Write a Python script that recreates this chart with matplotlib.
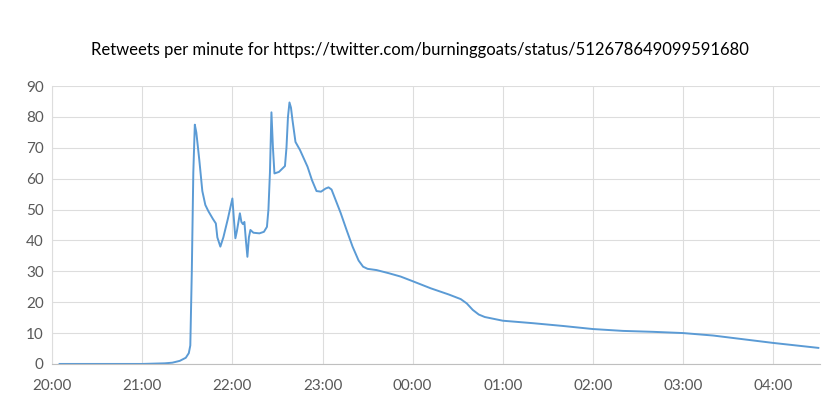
import matplotlib
matplotlib.use("Agg")
import matplotlib.pyplot as plt
import matplotlib.dates as mdates
from datetime import datetime, timedelta

# Retweets per minute
times = ["20:05", "20:30", "21:00", "21:15", "21:20", "21:25", "21:29", "21:31",
         "21:32", "21:33", "21:34", "21:35", "21:36", "21:38", "21:40", "21:42",
         "21:44", "21:47", "21:49", "21:50", "21:52", "21:54", "21:57", "22:00",
         "22:01", "22:02", "22:03", "22:05", "22:06", "22:07", "22:08", "22:09",
         "22:10", "22:11", "22:12", "22:14", "22:18", "22:21", "22:23", "22:24",
         "22:25", "22:26", "22:27", "22:28", "22:31", "22:35", "22:36", "22:37",
         "22:38", "22:39", "22:40", "22:42", "22:45", "22:50", "22:53", "22:56",
         "22:59", "23:02", "23:04", "23:06", "23:08", "23:12", "23:16", "23:20",
         "23:24", "23:27", "23:30", "23:36", "23:44", "23:52", "00:00", "00:12",
         "00:24", "00:32", "00:36", "00:40", "00:44", "00:48", "00:55", "01:00",
         "01:20", "01:40", "02:00", "02:20", "02:40", "03:00", "03:20", "03:40",
         "04:00", "04:15", "04:30"]
retweets = [0, 0, 0, 0.2, 0.4, 1, 2, 3.5,
            6, 30, 62, 77.5, 75, 66, 56, 51.5,
            49.5, 47, 45.5, 41, 38, 41, 47, 53.6,
            47, 40.7, 43, 48.8, 46, 45.3, 46, 40,
            34.7, 41, 43.4, 42.5, 42.3, 42.8, 44.4, 50,
            62, 81.5, 70, 61.7, 62.2, 64.1, 70, 80,
            84.7, 83, 79, 71.9, 69.3, 63.9, 59.5, 56,
            55.8, 56.8, 57.2, 56.5, 54, 49, 43.4, 38,
            33.5, 31.5, 30.8, 30.4, 29.4, 28.3, 26.8, 24.5,
            22.5, 21, 19.6, 17.5, 16, 15.2, 14.5, 14,
            13.2, 12.3, 11.3, 10.7, 10.4, 10, 9.2, 8,
            6.8, 6, 5.2]

day0 = datetime(2014, 9, 18)
def to_dt(s):
    h, m = map(int, s.split(":"))
    d = day0 + timedelta(hours=h, minutes=m)
    if h < 12:
        d += timedelta(days=1)
    return d

x = [to_dt(t) for t in times]

plt.rcParams['font.family'] = ['Lato', 'DejaVu Sans']

fig = plt.figure(figsize=(8.4, 4.08), dpi=100)
ax = fig.add_axes([0.062, 0.108, 0.914, 0.681])

ax.plot(x, retweets, color='#5B9BD5', linewidth=1.4)

ax.set_xlim(to_dt("20:00"), to_dt("04:31"))
ax.set_ylim(0, 90)
ax.set_yticks(range(0, 91, 10))
ax.xaxis.set_major_locator(mdates.HourLocator())
ax.xaxis.set_major_formatter(mdates.DateFormatter("%H:%M"))

ax.grid(True, color='#DDDDDD', linewidth=0.8)
ax.set_axisbelow(True)
for s in ['top', 'right']:
    ax.spines[s].set_visible(False)
ax.spines['left'].set_color('#DDDDDD')
ax.spines['bottom'].set_color('#BFBFBF')
ax.tick_params(length=0, labelsize=11, colors='#595959')
ax.tick_params(axis='x', pad=11)
ax.tick_params(axis='y', pad=6)

fig.text(0.5, 0.878, "Retweets per minute for https://twitter.com/burninggoats/status/512678649099591680",
         ha='center', va='center', fontsize=12, color='black')

fig.savefig("out.png", dpi=100, facecolor='white')
